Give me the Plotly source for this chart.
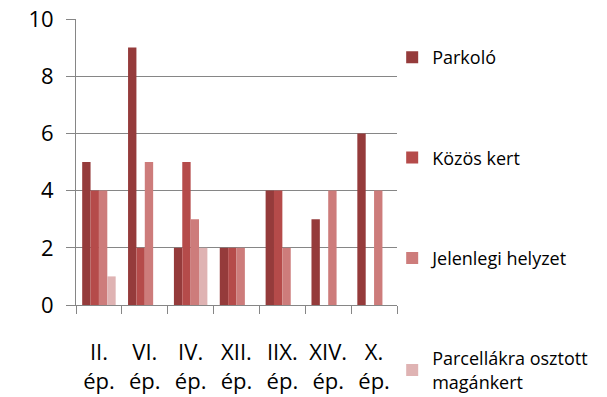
import plotly.graph_objects as go

categories = ["II.<br>ép.", "VI.<br>ép.", "IV.<br>ép.", "XII.<br>ép.", "IIX.<br>ép.", "XIV.<br>ép.", "X.<br>ép."]
parkolo = [5, 9, 2, 2, 4, 3, 6]
kozos_kert = [4, 2, 5, 2, 4, 0, 0]
jelenlegi = [4, 5, 3, 2, 2, 4, 4]
parcellak = [1, 0, 2, 0, 0, 0, 0]

series = [
    ("Parkoló", parkolo, "#953B3B"),
    ("Közös kert", kozos_kert, "#B54B4A"),
    ("Jelenlegi helyzet", jelenlegi, "#CD7C7B"),
    ("Parcellákra osztott<br>magánkert", parcellak, "#DFB3B3"),
]

FONT = "Open Sans"
GRID = "#868686"

fig = go.Figure()
for i, (name, vals, color) in enumerate(series):
    fig.add_trace(go.Bar(
        x=categories, y=vals, name=name,
        marker=dict(color=color, line=dict(width=0)),
        legendgroup=f"g{i}",
    ))

fig.update_layout(
    width=607, height=397,
    margin=dict(l=76, r=210, t=19, b=92, autoexpand=False),
    paper_bgcolor="white", plot_bgcolor="white",
    barmode="group", bargap=0.27, bargroupgap=0,
    font=dict(family=FONT, color="#000000"),
    showlegend=True,
    legend=dict(
        x=0.985, xanchor="left", y=0.93, yanchor="top",
        traceorder="grouped", tracegroupgap=74,
        maxheight=420,
        font=dict(family=FONT, size=18, color="#000000"),
        bgcolor="rgba(0,0,0,0)",
    ),
    xaxis=dict(
        type="category", automargin=False,
        showline=True, linecolor=GRID, linewidth=1,
        ticks="outside", tickson="boundaries", ticklen=8, tickcolor=GRID, tickwidth=1,
        showgrid=False, tickangle=0,
        tickfont=dict(family=FONT, size=22, color="#000000"),
        ticklabelstandoff=28,
    ),
    yaxis=dict(
        range=[0, 10], dtick=2, tick0=0, automargin=False,
        showline=True, linecolor=GRID, linewidth=1,
        ticks="outside", ticklen=9, tickcolor=GRID, tickwidth=1,
        showgrid=True, gridcolor=GRID, gridwidth=1,
        zeroline=False,
        tickfont=dict(family=FONT, size=22, color="#000000"),
        ticklabelstandoff=8,
    ),
)

fig.write_html("out.html")
